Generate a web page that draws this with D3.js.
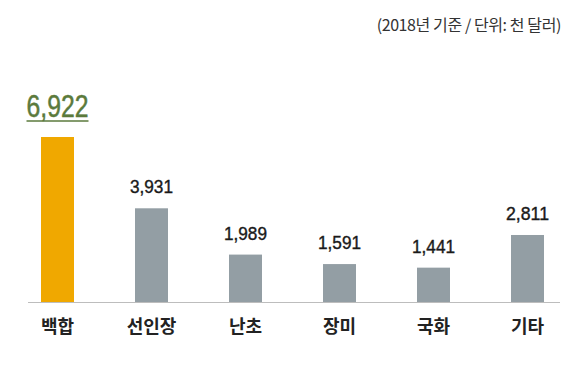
<!DOCTYPE html>
<html><head><meta charset="utf-8">
<script src="https://cdn.jsdelivr.net/npm/d3@7"></script>
<style>body{margin:0;background:#fff;}svg{display:block;}</style>
</head><body>
<script>
const categories = ["백합","선인장","난초","장미","국화","기타"];
const values = [6922,3931,1989,1591,1441,2811];
const valueLabels = ["6,922","3,931","1,989","1,591","1,441","2,811"];
const note = "(2018년 기준 / 단위: 천 달러)";

const W=586,H=375;
const svg=d3.select("body").append("svg").attr("width",W).attr("height",H);
const base=302;
const x=d3.scaleBand().domain(categories).range([41,544]).paddingInner(0.649).paddingOuter(0);
const y=d3.scaleLinear().domain([0,6922]).range([base,137]);

svg.append("text").attr("x",561).attr("y",31).attr("text-anchor","end")
  .attr("font-family","Noto Sans CJK KR").attr("font-size",16).attr("fill","#333")
  .attr("letter-spacing",-0.4).text(note);

svg.append("line").attr("x1",28).attr("x2",560).attr("y1",base+0.5).attr("y2",base+0.5)
  .attr("stroke","#bdbdbd").attr("stroke-width",1);

svg.selectAll("rect.bar").data(values).enter().append("rect")
  .attr("x",(d,i)=>x(categories[i])).attr("width",x.bandwidth())
  .attr("y",d=>y(d)).attr("height",d=>base-y(d))
  .attr("fill",(d,i)=>i===0?"#F0A800":"#939EA4");

svg.selectAll("text.val").data(values).enter().append("text")
  .attr("x",(d,i)=>x(categories[i])+x.bandwidth()/2)
  .attr("y",(d,i)=>i===0?y(d)-20:y(d)-15)
  .attr("text-anchor","middle")
  .attr("font-family","Liberation Sans")
  .attr("font-size",(d,i)=>i===0?31:18.5)
  .attr("textLength",(d,i)=>i===0?62:43)
  .attr("lengthAdjust","spacingAndGlyphs")
  .attr("fill",(d,i)=>i===0?"#5B7A3C":"#1a1a1a")
  .attr("stroke",(d,i)=>i===0?"#5B7A3C":"#1a1a1a")
  .attr("stroke-width",(d,i)=>i===0?0.5:0.4)
  .text((d,i)=>valueLabels[i]);

// underline for the highlighted value
const c0=x(categories[0])+x.bandwidth()/2;
svg.append("line").attr("x1",c0-31).attr("x2",c0+31).attr("y1",121).attr("y2",121)
  .attr("stroke","#5B7A3C").attr("stroke-width",1.5);

svg.selectAll("text.cat").data(categories).enter().append("text")
  .attr("x",d=>x(d)+x.bandwidth()/2).attr("y",333)
  .attr("text-anchor","middle").attr("font-family","Noto Sans CJK KR")
  .attr("font-weight",700).attr("font-size",18).attr("fill","#222")
  .text(d=>d);
</script>
</body></html>
